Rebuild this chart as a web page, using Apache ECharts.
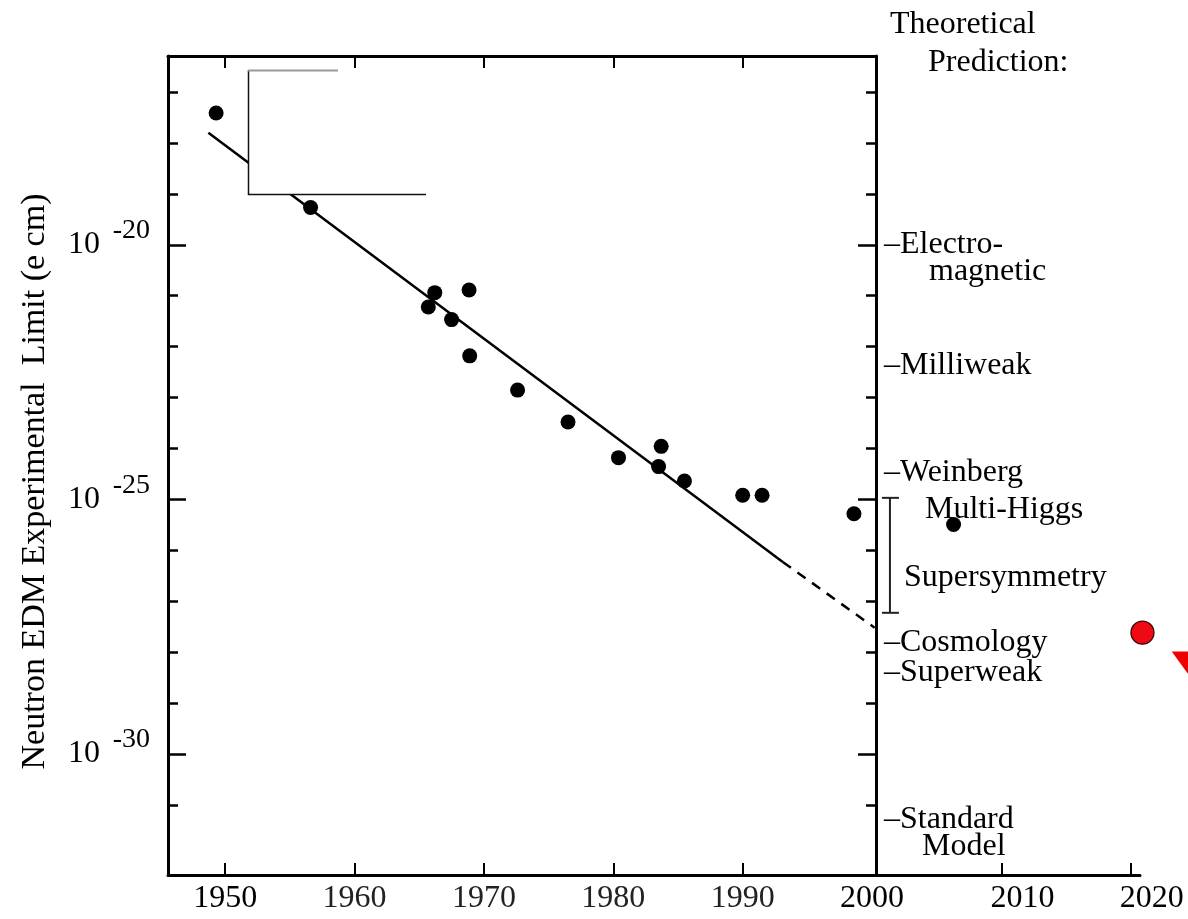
<!DOCTYPE html>
<html><head><meta charset="utf-8">
<script src="https://cdn.jsdelivr.net/npm/echarts@6/dist/echarts.min.js"></script>
<style>html,body{margin:0;padding:0;background:#fff}#c{width:1188px;height:919px}</style>
</head><body><div id="c"></div>
<script>
// ---- data ----
const years  = [1949.3, 1956.6, 1965.7, 1966.2, 1967.5, 1968.85, 1968.9, 1972.6, 1976.5, 1980.4, 1983.5, 1983.7, 1985.5, 1990.0, 1991.5, 1998.6, 2006.3];
const limits = [3.9e-18, 5.4e-20, 6.0e-22, 1.15e-21, 3.4e-22, 1.3e-21, 6.6e-23, 1.4e-23, 3.3e-24, 6.6e-25, 4.4e-25, 1.1e-24, 2.3e-25, 1.2e-25, 1.2e-25, 5.2e-26, 3.2e-26];
const fitYears = [1948.7, 1993.1];
const fitLimits = [1.6e-18, 5.9e-27];
const extrapYears = [1993.1, 2000.2];
const extrapLimits = [5.9e-27, 3.0e-28];
const recentYears = [2020.9];
const recentLimits = [2.4e-28];
const projectedYears = [2024.4];
const projectedLimits = [6.2e-29];
const theoryNames = ['Electro-\nmagnetic', 'Milliweak', 'Weinberg', 'Multi-Higgs', 'Supersymmetry', 'Cosmology', 'Superweak', 'Standard\nModel'];
const theoryLimits = [1.0e-20, 4.2e-23, 3.3e-25, 6.2e-26, 2.9e-27, 1.5e-28, 3.9e-29, 5.0e-32];
const susyRange = [1.07e-25, 5.9e-28];
const yearTicks = [1950, 1960, 1970, 1980, 1990, 2000, 2010, 2020];
const decadeExponents = [-31, -30, -29, -28, -27, -26, -25, -24, -23, -22, -21, -20, -19, -18, -17];
const labelExponents = [-20, -25, -30];
const yTitle = 'Neutron EDM Experimental  Limit (e cm)';
const sideTitle = ['Theoretical', 'Prediction:'];

// ---- layout ----
const FONT = "'Liberation Serif','Times New Roman',serif";
const X_MIN = 1945.58, X_MAX = 2020.71, X_BOX = 2000.30;
const Y_MIN = -32.38, Y_MAX = -16.29;
const lg = v => Math.log10(v);
const theoryExp = theoryLimits.map(lg);

const chart = echarts.init(document.getElementById('c'), null, {renderer: 'canvas'});
const axisLine = {show: true, lineStyle: {color: '#000', width: 3}};
const tt = (extra) => Object.assign({fontFamily: FONT, fontSize: 32, fontWeight: 'normal', color: '#000', lineHeight: 27}, extra || {});

chart.setOption({
  animation: false,
  backgroundColor: '#fff',
  title: {
    text: '{a|' + sideTitle[0] + '}\n{b|' + sideTitle[1] + '}',
    left: 890, top: 6, padding: 0,
    textStyle: {fontWeight: 'normal', rich: {
      a: {fontFamily: FONT, fontSize: 32, fontWeight: 'normal', color: '#000', lineHeight: 38},
      b: {fontFamily: FONT, fontSize: 32, fontWeight: 'normal', color: '#000', lineHeight: 38, padding: [0, 0, 0, 38]}
    }}
  },
  grid: [
    {left: 168, right: 48, top: 56, bottom: 44},
    {left: 168, right: 312, top: 56, bottom: 44}
  ],
  xAxis: [
    {gridIndex: 0, type: 'value', position: 'bottom', min: X_MIN, max: X_MAX,
     axisLine: axisLine, splitLine: {show: false},
     axisTick: {show: true, inside: true, length: 12, lineStyle: {color: '#000', width: 2},
                customValues: yearTicks.filter(y => y !== 2000)},
     axisLabel: {customValues: yearTicks, margin: 8,
       formatter: v => (v >= 2010 ? '{s|' + v + '}' : (v === 1950 || v === 2000 ? '{a|' + v + '}' : '{g|' + v + '}')),
       rich: {
         a: {fontFamily: FONT, fontSize: 32, color: '#000'},
         g: {fontFamily: FONT, fontSize: 32, color: '#222'},
         s: {fontFamily: FONT, fontSize: 32, color: '#000', padding: [0, 0, 0, 42]}
       }}},
    {gridIndex: 1, type: 'value', position: 'top', min: X_MIN, max: X_BOX,
     axisLine: axisLine, splitLine: {show: false},
     axisTick: {show: true, inside: true, length: 12, lineStyle: {color: '#000', width: 2},
                customValues: yearTicks.filter(y => y < 2000)},
     axisLabel: {show: false}}
  ],
  yAxis: [
    {gridIndex: 0, type: 'value', min: Y_MIN, max: Y_MAX, show: false, splitLine: {show: false}},
    {gridIndex: 1, type: 'value', position: 'left', min: Y_MIN, max: Y_MAX,
     axisLine: axisLine, splitLine: {show: false},
     axisTick: {show: true, inside: true, length: 10, lineStyle: {color: '#000', width: 2.5}, customValues: decadeExponents},
     axisLabel: {show: false},
     name: yTitle, nameLocation: 'middle', nameGap: 116,
     nameTextStyle: {fontFamily: FONT, fontSize: 34, color: '#000', padding: [0, 32, 0, 0]}},
    {gridIndex: 1, type: 'value', position: 'left', min: Y_MIN, max: Y_MAX,
     axisLine: {show: false}, splitLine: {show: false},
     axisTick: {show: true, inside: true, length: 18, lineStyle: {color: '#000', width: 2.5}, customValues: labelExponents},
     axisLabel: {customValues: labelExponents, margin: 68, formatter: () => '10',
       fontFamily: FONT, fontSize: 32, color: '#000', padding: [5, 0, 0, 0]}},
    {gridIndex: 1, type: 'value', position: 'left', min: Y_MIN, max: Y_MAX,
     axisLine: {show: false}, splitLine: {show: false}, axisTick: {show: false},
     axisLabel: {customValues: labelExponents, margin: 18, formatter: v => String(v),
       verticalAlign: 'bottom', fontFamily: FONT, fontSize: 28, color: '#000', padding: [0, 0, 0, 0]}},
    {gridIndex: 1, type: 'value', position: 'right', min: Y_MIN, max: Y_MAX,
     axisLine: axisLine, splitLine: {show: false},
     axisTick: {show: true, inside: true, length: 10, lineStyle: {color: '#000', width: 2.5}, customValues: decadeExponents},
     axisLabel: {show: false}},
    {gridIndex: 1, type: 'value', position: 'right', min: Y_MIN, max: Y_MAX,
     axisLine: {show: false}, splitLine: {show: false},
     axisTick: {show: true, inside: true, length: 18, lineStyle: {color: '#000', width: 2.5}, customValues: labelExponents},
     axisLabel: {show: false}},
    {gridIndex: 1, type: 'value', position: 'right', min: Y_MIN, max: Y_MAX,
     axisLine: {show: false}, splitLine: {show: false}, axisTick: {show: false},
     axisLabel: {customValues: theoryExp, margin: 8, align: 'left',
       formatter: v => {
         let i = 0, best = Infinity;
         theoryExp.forEach((e, k) => { const d = Math.abs(e - v); if (d < best) { best = d; i = k; } });
         const name = theoryNames[i];
         if (name.indexOf('\n') >= 0) {
           const parts = name.split('\n');
           return '{e| }\n{t|\u2013' + parts[0] + '}\n{' + (parts[1] === 'magnetic' ? 'm' : 'd') + '|' + parts[1] + '}';
         }
         if (name === 'Multi-Higgs') return '{h|' + name + '}';
         if (name === 'Supersymmetry') return '{s|' + name + '}';
         return '{t|\u2013' + name + '}';
       },
       rich: {
         e: tt(), t: tt(),
         m: tt({padding: [0, 0, 0, 45]}),
         d: tt({padding: [0, 0, 0, 38]}),
         h: tt({padding: [0, 0, 0, 41]}),
         s: tt({padding: [0, 0, 0, 20]})
       }}}
  ],
  series: [
    {type: 'line', name: 'Fit', xAxisIndex: 0, yAxisIndex: 0, symbol: 'none', z: 3,
     data: fitYears.map((y, i) => [y, lg(fitLimits[i])]),
     lineStyle: {color: '#000', width: 2.5}},
    {type: 'line', name: 'Extrapolation', xAxisIndex: 0, yAxisIndex: 0, symbol: 'none', z: 3,
     data: extrapYears.map((y, i) => [y, lg(extrapLimits[i])]),
     lineStyle: {color: '#000', width: 2.5, type: [10, 8]}},
    {type: 'scatter', name: 'Measurements', xAxisIndex: 0, yAxisIndex: 0, z: 4,
     data: years.map((y, i) => [y, lg(limits[i])]),
     symbolSize: 15, itemStyle: {color: '#000', opacity: 1}},
    {type: 'scatter', name: 'Recent', xAxisIndex: 0, yAxisIndex: 0, z: 4, clip: false,
     data: recentYears.map((y, i) => [y, lg(recentLimits[i])]),
     symbolSize: 23, itemStyle: {color: '#ee0a14', borderColor: '#3a0000', borderWidth: 1.3, opacity: 1}},
    {type: 'scatter', name: 'Projected', xAxisIndex: 0, yAxisIndex: 0, z: 4, clip: false,
     data: projectedYears.map((y, i) => [y, lg(projectedLimits[i])]),
     symbol: 'triangle', symbolRotate: 180, symbolSize: [32, 22], itemStyle: {color: '#ee0000', opacity: 1}},
    {type: 'custom', name: 'Supersymmetry range', xAxisIndex: 0, yAxisIndex: 0, z: 4,
     data: [[lg(susyRange[0]), lg(susyRange[1])]],
     renderItem: (params, api) => {
       const p1 = api.coord([X_BOX, api.value(0)]);
       const p2 = api.coord([X_BOX, api.value(1)]);
       const x = p1[0] + 14;
       const st = {stroke: '#222', lineWidth: 2};
       return {type: 'group', children: [
         {type: 'line', shape: {x1: x, y1: p1[1], x2: x, y2: p2[1]}, style: st},
         {type: 'line', shape: {x1: x - 8, y1: p1[1], x2: x + 9, y2: p1[1]}, style: st},
         {type: 'line', shape: {x1: x - 8, y1: p2[1], x2: x + 9, y2: p2[1]}, style: st}
       ]};
     }}
  ],
  graphic: [
    {type: 'rect', z: 100, shape: {x: 248, y: 70, width: 178, height: 125}, style: {fill: '#fff'}},
    {type: 'polyline', z: 101, shape: {points: [[248.5, 70], [248.5, 194.5], [426, 194.5]]}, style: {stroke: '#111', lineWidth: 1.5, fill: null}},
    {type: 'line', z: 101, shape: {x1: 248, y1: 70.5, x2: 338, y2: 70.5}, style: {stroke: '#9a9a9a', lineWidth: 2}}
  ]
});
</script></body></html>
